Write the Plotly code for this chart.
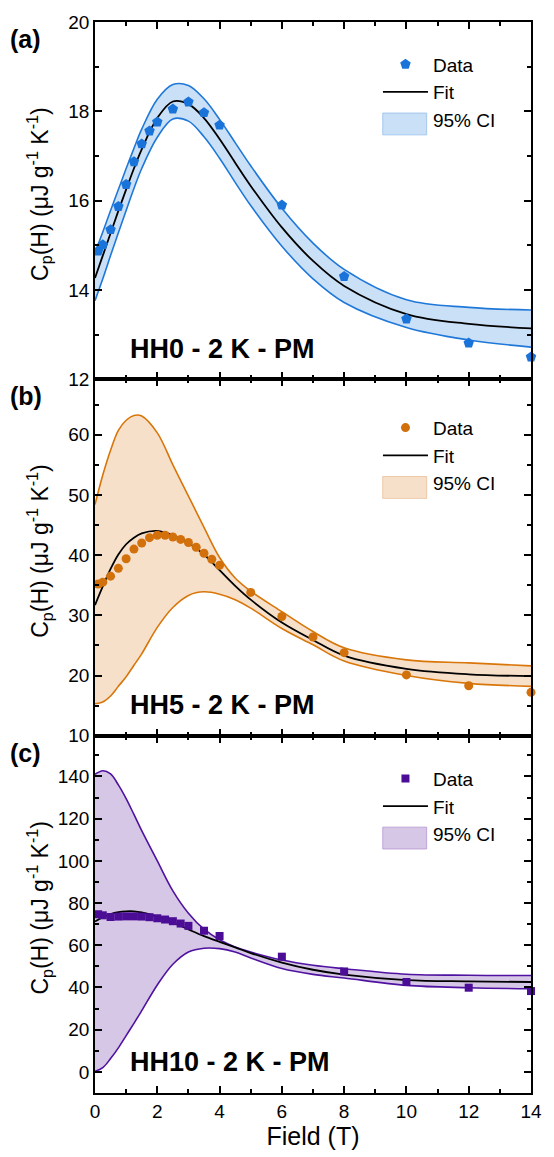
import plotly.graph_objects as go

# ---------------------------------------------------------------------------
# Field-dependent heat capacity Cp(H) at 2 K, paramagnetic regime
# ---------------------------------------------------------------------------

# field values (T) on which the fit and its confidence band are tabulated
FIT_FIELD = [0, 0.25, 0.5, 0.75, 1, 1.25, 1.5, 2, 2.5, 3, 3.5, 4, 4.5, 5,
             6, 7, 8, 10, 12, 14]

# HH0
HH0_FIELD = [0.1, 0.25, 0.5, 0.75, 1.0, 1.25, 1.5, 1.75, 2.0, 2.5, 3.0, 3.5,
             4.0, 6, 8, 10, 12, 14]
HH0_CP = [14.87, 15.01, 15.35, 15.87, 16.36, 16.87, 17.27, 17.56, 17.76,
          18.05, 18.21, 17.97, 17.69, 15.90, 14.30, 13.35, 12.81, 12.50]
HH0_FIT = [14.27, 14.77, 15.27, 15.77, 16.25, 16.72, 17.15, 17.85, 18.22,
           18.16, 17.85, 17.38, 16.85, 16.33, 15.40, 14.65, 14.09, 13.46,
           13.24, 13.14]
HH0_CI_HI = [14.83, 15.30, 15.78, 16.25, 16.72, 17.17, 17.60, 18.27, 18.60,
             18.58, 18.28, 17.82, 17.30, 16.78, 15.83, 15.05, 14.46, 13.78,
             13.61, 13.55]
HH0_CI_LO = [13.76, 14.25, 14.77, 15.28, 15.78, 16.27, 16.72, 17.42, 17.83,
             17.78, 17.43, 16.95, 16.41, 15.89, 14.98, 14.25, 13.72, 13.16,
             12.88, 12.72]

# HH5
HH5_FIELD = [0.1, 0.25, 0.5, 0.75, 1.0, 1.25, 1.5, 1.75, 2.0, 2.25, 2.5, 2.75,
             3.0, 3.25, 3.5, 3.75, 4.0, 5, 6, 7, 8, 10, 12, 14]
HH5_CP = [35.2, 35.5, 36.5, 37.8, 39.4, 41.0, 42.0, 42.9, 43.3, 43.3, 43.0,
          42.6, 42.1, 41.3, 40.3, 39.3, 38.3, 33.8, 29.8, 26.4, 23.8, 20.1,
          18.3, 17.2]
HH5_FIT = [31.7, 34.8, 37.7, 40.1, 41.8, 42.9, 43.6, 44.0, 43.3, 42.0, 40.1,
           37.5, 34.9, 32.6, 28.8, 25.9, 23.3, 21.1, 20.2, 19.9]
HH5_CI_HI = [48.4, 53.3, 57.4, 60.7, 62.4, 63.2, 63.1, 60.3, 55.0, 49.8,
             44.6, 39.6, 36.2, 34.0, 30.6, 27.3, 24.6, 22.6, 22.1, 21.6]
HH5_CI_LO = [15.3, 15.6, 16.6, 18.2, 19.8, 21.7, 23.6, 28.0, 31.3, 33.3,
             33.9, 33.5, 32.6, 31.2, 27.8, 25.1, 22.4, 20.0, 18.7, 18.2]

# HH10
HH10_FIELD = [0.1, 0.25, 0.5, 0.75, 1.0, 1.25, 1.5, 1.75, 2.0, 2.25, 2.5,
              2.75, 3.0, 3.5, 4.0, 6, 8, 10, 12, 14]
HH10_CP = [74.7, 74.2, 73.4, 73.6, 73.7, 73.7, 73.6, 73.3, 72.8, 72.2, 71.4,
           70.3, 69.2, 66.9, 64.4, 54.6, 47.6, 42.6, 39.9, 38.3]
HH10_FIT = [71.3, 73.3, 74.8, 75.7, 76.1, 76.1, 75.6, 73.6, 70.8, 67.5, 64.3,
            61.6, 59.0, 56.3, 51.8, 48.4, 46.1, 43.5, 42.9, 42.6]
HH10_CI_HI = [141.0, 142.7, 141.2, 136.0, 129.5, 122.0, 114.3, 100.0, 85.8,
              75.2, 67.6, 62.6, 59.2, 56.8, 53.0, 50.5, 48.9, 46.3, 45.8, 45.7]
HH10_CI_LO = [0.2, 2.0, 6.3, 11.4, 17.2, 23.0, 29.0, 41.2, 51.0, 56.8, 58.6,
              58.4, 56.8, 54.0, 49.0, 46.2, 44.5, 41.0, 39.9, 39.4]

FONT = "Liberation Sans, Arial, Helvetica, sans-serif"

panels = [
    dict(tag="(a)", sample="HH0 - 2 K - PM", field=HH0_FIELD, cp=HH0_CP,
         fit=HH0_FIT, hi=HH0_CI_HI, lo=HH0_CI_LO,
         symbol="pentagon", msize=11, mcolor="#1a73d9", lcolor="#1f78d8",
         fcolor="rgba(170,205,240,0.62)", swatch_edge="rgba(150,190,235,0.8)",
         yrange=[12, 20], dtick=2, minor=1, domain=[0.6664, 1.0],
         legend_top=0.9782, swatch=[0.6841, 0.7452]),
    dict(tag="(b)", sample="HH5 - 2 K - PM", field=HH5_FIELD, cp=HH5_CP,
         fit=HH5_FIT, hi=HH5_CI_HI, lo=HH5_CI_LO,
         symbol="circle", msize=9, mcolor="#d2700c", lcolor="#d9760a",
         fcolor="rgba(240,205,170,0.62)", swatch_edge="rgba(235,190,150,0.8)",
         yrange=[10, 69.2], dtick=10, minor=5, domain=[0.3336, 0.6664],
         legend_top=0.6389, swatch=[0.6659, 0.7272]),
    dict(tag="(c)", sample="HH10 - 2 K - PM", field=HH10_FIELD, cp=HH10_CP,
         fit=HH10_FIT, hi=HH10_CI_HI, lo=HH10_CI_LO,
         symbol="square", msize=8, mcolor="#4b0c96", lcolor="#4f12a0",
         fcolor="rgba(190,165,215,0.62)", swatch_edge="rgba(180,150,210,0.8)",
         yrange=[-10, 159.3], dtick=20, minor=10, domain=[0.0, 0.3336],
         legend_top=0.3113, swatch=[0.6830, 0.7441]),
]

LEGEND_X = 0.649
SWATCH_X = [0.660, 0.7607]

fig = go.Figure()
layout = dict(
    width=554, height=1157,
    margin=dict(l=95, r=12, t=14, b=64),
    paper_bgcolor="white", plot_bgcolor="white",
    font=dict(family=FONT, size=19, color="black"),
    showlegend=True,
)

axis_common = dict(
    showline=True, linecolor="black", linewidth=1.6, mirror="ticks",
    ticks="inside", ticklen=7, tickwidth=1.5, tickcolor="black",
    showgrid=False, zeroline=False,
    tickfont=dict(family=FONT, size=19, color="black"),
)

annotations = []
shapes = []
for i, p in enumerate(panels):
    n = "" if i == 0 else str(i + 1)
    xa, ya = "x" + n, "y" + n
    leg = "legend" + n

    # confidence band: lower edge, then upper edge filled down to it
    fig.add_trace(go.Scatter(
        x=FIT_FIELD, y=p["lo"], xaxis=xa, yaxis=ya, mode="lines",
        line=dict(color=p["lcolor"], width=1.6, shape="spline"),
        showlegend=False, hoverinfo="skip", legend=leg))
    fig.add_trace(go.Scatter(
        x=FIT_FIELD, y=p["hi"], xaxis=xa, yaxis=ya, mode="lines",
        line=dict(color=p["lcolor"], width=1.6, shape="spline"),
        fill="tonexty", fillcolor=p["fcolor"], showlegend=False,
        hoverinfo="skip", legend=leg))
    # fitted curve
    fig.add_trace(go.Scatter(
        x=FIT_FIELD, y=p["fit"], xaxis=xa, yaxis=ya, mode="lines",
        line=dict(color="black", width=1.8, shape="spline"),
        name="Fit", legend=leg, legendrank=2))
    # measured points
    fig.add_trace(go.Scatter(
        x=p["field"], y=p["cp"], xaxis=xa, yaxis=ya, mode="markers",
        marker=dict(symbol=p["symbol"], size=p["msize"], color=p["mcolor"],
                    line=dict(width=0)),
        name="Data", legend=leg, legendrank=1, cliponaxis=False))
    # legend entry for the band; its key is drawn as a filled box below
    fig.add_trace(go.Scatter(
        x=[None], y=[None], xaxis=xa, yaxis=ya, mode="lines",
        line=dict(color="rgba(0,0,0,0)", width=0),
        name="95% CI", legend=leg, legendrank=3, hoverinfo="skip"))

    layout["xaxis" + n] = dict(
        axis_common, range=[0, 14], dtick=2, tick0=0, anchor=ya,
        domain=[0, 1], showticklabels=(i == 2),
        minor=dict(ticks="inside", ticklen=4, tickwidth=1.5,
                   tickcolor="black", dtick=1, showgrid=False),
        **({} if i == 0 else {"matches": "x"}))
    layout["yaxis" + n] = dict(
        axis_common, range=p["yrange"], dtick=p["dtick"], anchor=xa,
        domain=p["domain"],
        minor=dict(ticks="inside", ticklen=4, tickwidth=1.5,
                   tickcolor="black", dtick=p["minor"], showgrid=False))

    layout[leg] = dict(
        x=LEGEND_X, y=p["legend_top"], xanchor="left", yanchor="top",
        bgcolor="rgba(0,0,0,0)", borderwidth=0, itemwidth=45,
        traceorder="normal", tracegroupgap=0,
        font=dict(family=FONT, size=19, color="black"))

    xd, yd = xa + " domain", ya + " domain"
    # filled key for the confidence band entry
    shapes.append(dict(
        type="rect", xref=xd, yref=yd, x0=SWATCH_X[0], x1=SWATCH_X[1],
        y0=p["swatch"][0], y1=p["swatch"][1], fillcolor=p["fcolor"],
        line=dict(color=p["swatch_edge"], width=1), layer="above"))
    # sample label inside the panel
    annotations.append(dict(
        text="<b>" + p["sample"] + "</b>", xref=xd, yref=yd, x=0.076,
        y=0.086, xanchor="left", yanchor="middle", showarrow=False,
        font=dict(family=FONT, size=27, color="black")))
    # panel tag
    annotations.append(dict(
        text="<b>" + p["tag"] + "</b>", xref="paper", yref=yd, x=-0.2,
        y=1.0 - 17 / 360, xanchor="left", yanchor="middle", showarrow=False,
        font=dict(family=FONT, size=25, color="black")))
    # y-axis title
    annotations.append(dict(
        text="C<sub>p</sub>(H) (μJ g<sup>-1</sup> K<sup>-1</sup>)",
        xref="paper", yref=yd, x=-0.1275, y=0.52, xanchor="center",
        yanchor="middle", textangle=-90, showarrow=False,
        font=dict(family=FONT, size=23, color="black")))

layout["xaxis3"]["title"] = dict(
    text="Field (T)", font=dict(family=FONT, size=25, color="black"),
    standoff=4)
layout["annotations"] = annotations
layout["shapes"] = shapes
fig.update_layout(**layout)

fig.write_html("out.html")
